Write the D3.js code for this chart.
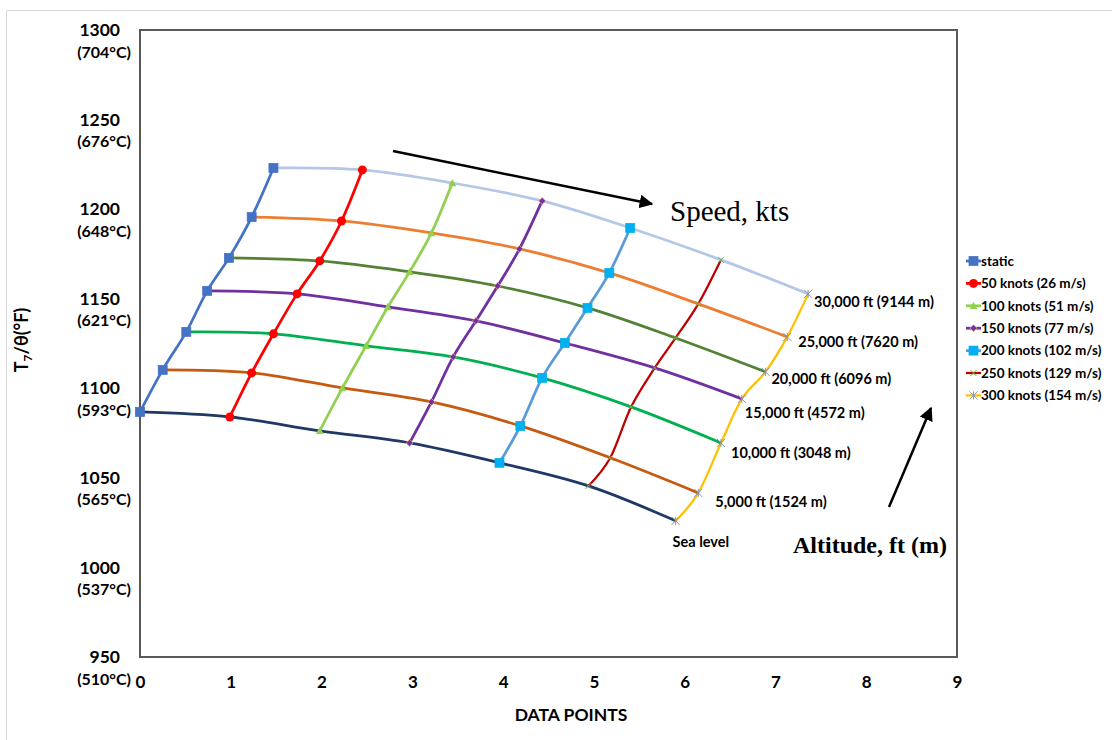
<!DOCTYPE html>
<html>
<head>
<meta charset="utf-8">
<script src="https://cdn.jsdelivr.net/npm/d3@7"></script>
<style>
  body { margin: 0; background: #fff; }
  svg { display: block; }
</style>
</head>
<body>
<svg id="chart" width="1112" height="740"></svg>
<script>
// ---- data ----------------------------------------------------------------
const speedLabels = ["static", "50 knots (26 m/s)", "100 knots (51 m/s)", "150 knots (77 m/s)",
                     "200 knots (102 m/s)", "250 knots (129 m/s)", "300 knots (154 m/s)"];
const altitudeLabels = ["Sea level", "5,000 ft (1524 m)", "10,000 ft (3048 m)", "15,000 ft (4572 m)",
                        "20,000 ft (6096 m)", "25,000 ft (7620 m)", "30,000 ft (9144 m)"];

// each speed series runs from sea level up to 30,000 ft
const staticX = [0.00, 0.25, 0.51, 0.74, 0.98, 1.23, 1.47];
const staticY = [1086.8, 1110.3, 1131.5, 1154.4, 1172.8, 1195.6, 1223.0];
const kt50X  = [0.99, 1.23, 1.47, 1.73, 1.98, 2.22, 2.45];
const kt50Y  = [1084.0, 1108.6, 1130.4, 1152.7, 1171.1, 1193.4, 1221.9];
const kt100X = [1.98, 2.23, 2.49, 2.73, 2.97, 3.21, 3.44];
const kt100Y = [1076.2, 1100.2, 1123.7, 1145.4, 1165.0, 1186.7, 1214.6];
const kt150X = [2.97, 3.21, 3.45, 3.70, 3.94, 4.18, 4.43];
const kt150Y = [1069.5, 1092.4, 1117.5, 1137.6, 1157.1, 1177.8, 1204.6];
const kt200X = [3.96, 4.19, 4.43, 4.68, 4.93, 5.17, 5.40];
const kt200Y = [1058.4, 1079.0, 1105.8, 1125.3, 1144.9, 1164.4, 1189.5];
const kt250X = [4.94, 5.18, 5.41, 5.67, 5.90, 6.15, 6.40];
const kt250Y = [1045.5, 1061.2, 1089.6, 1111.4, 1128.1, 1147.1, 1171.7];
const kt300X = [5.90, 6.15, 6.40, 6.63, 6.89, 7.13, 7.36];
const kt300Y = [1026.0, 1041.6, 1069.5, 1094.1, 1109.2, 1128.7, 1152.7];

const xTicks = [0, 1, 2, 3, 4, 5, 6, 7, 8, 9];
const yTicks = [950, 1000, 1050, 1100, 1150, 1200, 1250, 1300];
const celsiusLabels = ["(510°C)", "(537°C)", "(565°C)", "(593°C)", "(621°C)", "(648°C)", "(676°C)", "(704°C)"];

// ---- styles ----------------------------------------------------------------
const speedXs = [staticX, kt50X, kt100X, kt150X, kt200X, kt250X, kt300X];
const speedYs = [staticY, kt50Y, kt100Y, kt150Y, kt200Y, kt250Y, kt300Y];
const speedStyle = [
  { line: "#4472c4", width: 2.75, marker: "square",   fill: "#4472c4", stroke: "#4472c4", size: 9 },
  { line: "#ff0000", width: 2.75, marker: "circle",   fill: "#ff0000", stroke: "#ff0000", size: 9 },
  { line: "#92d050", width: 2.75, marker: "triangle", fill: "#92d050", stroke: "#92d050", size: 8 },
  { line: "#7030a0", width: 2.75, marker: "diamond",  fill: "#7030a0", stroke: "#f4b183", size: 7 },
  { line: "#5b9bd5", width: 2.75, marker: "square",   fill: "#00b0f0", stroke: "#00b0f0", size: 9 },
  { line: "#c00000", width: 2.25, marker: "x",        fill: "none",    stroke: "#70ad47", size: 6 },
  { line: "#ffc000", width: 2.25, marker: "star",     fill: "none",    stroke: "#8497b0", size: 8 }
];
const altitudeColors = ["#203864", "#c55a11", "#00b050", "#7030a0", "#548235", "#ed7d31", "#b4c7e7"];
const labelOffsets = [[-3, 21], [17, 9], [10, 10], [3, 14], [6, 7], [11, 5], [6, 8]];
const sans = "Lato, 'Open Sans', sans-serif";
const serif = "'Liberation Serif', 'Times New Roman', serif";

// ---- chart ----------------------------------------------------------------
const svg = d3.select("#chart");
const x = d3.scaleLinear().domain([0, 9]).range([140, 957]);
const y = d3.scaleLinear().domain([950, 1300]).range([657, 30]);

// outer chart border
svg.append("path").attr("d", "M6.5,740 V10.5 H1112").attr("fill", "none")
   .attr("stroke", "#d9d9d9").attr("stroke-width", 1);

// plot frame
svg.append("rect").attr("x", x(0)).attr("y", y(1300))
   .attr("width", x(9) - x(0)).attr("height", y(950) - y(1300))
   .attr("fill", "none").attr("stroke", "#595959").attr("stroke-width", 2);

// x axis
const xAxis = svg.append("g").attr("transform", `translate(0,${y(950)})`)
  .call(d3.axisBottom(x).tickValues(xTicks).tickSize(0).tickPadding(19).tickFormat(d3.format("d")));
xAxis.select(".domain").remove();
xAxis.selectAll("text").attr("font-family", sans).attr("font-weight", "bold")
  .attr("font-size", 17).attr("fill", "#000");

svg.append("text").attr("x", 571).attr("y", 721).attr("text-anchor", "middle")
  .attr("font-family", sans).attr("font-weight", "bold").attr("font-size", 17.5).text("DATA POINTS");

// y axis: °F value with its °C equivalent underneath
const yAxis = svg.append("g").attr("transform", `translate(${x(0)},0)`)
  .call(d3.axisLeft(y).tickValues(yTicks).tickSize(0).tickPadding(20).tickFormat(d3.format("d")));
yAxis.select(".domain").remove();
yAxis.selectAll("text").attr("font-family", sans).attr("font-weight", "bold")
  .attr("font-size", 17.5).attr("fill", "#000");
yAxis.selectAll(".tick").append("text")
  .attr("x", -9).attr("y", 22).attr("dy", "0.32em").attr("text-anchor", "end")
  .attr("font-family", sans).attr("font-weight", "bold").attr("font-size", 16)
  .attr("fill", "#000")
  .text(d => celsiusLabels[yTicks.indexOf(d)]);

const yTitle = svg.append("text").attr("transform", "translate(28,340) rotate(-90)")
  .attr("text-anchor", "middle").attr("font-family", sans)
  .attr("font-weight", "bold").attr("font-size", 18);
yTitle.append("tspan").text("T");
yTitle.append("tspan").attr("font-size", 12).attr("dy", 4).text("7");
yTitle.append("tspan").attr("dy", -4).text("/θ(°F)");

// grid lines
const curve = d3.line().x(d => x(d[0])).y(d => y(d[1])).curve(d3.curveCardinal.tension(0));

const speedPts = speedXs.map((xs, j) => xs.map((v, i) => [v, speedYs[j][i]]));
const altitudePts = altitudeLabels.map((_, i) => speedPts.map(s => s[i]));

svg.append("g").selectAll("path").data(speedPts).join("path")
  .attr("d", curve).attr("fill", "none")
  .attr("stroke", (d, j) => speedStyle[j].line)
  .attr("stroke-width", (d, j) => speedStyle[j].width)
  .attr("stroke-linecap", "round");

svg.append("g").selectAll("path").data(altitudePts).join("path")
  .attr("d", curve).attr("fill", "none")
  .attr("stroke", (d, i) => altitudeColors[i])
  .attr("stroke-width", 2.75);

// markers
function drawMarker(g, st) {
  const s = st.size, h = s / 2;
  if (st.marker === "square") {
    g.append("rect").attr("x", -h).attr("y", -h).attr("width", s).attr("height", s)
      .attr("fill", st.fill).attr("stroke", st.stroke).attr("stroke-width", 0.75);
  } else if (st.marker === "circle") {
    g.append("circle").attr("r", h).attr("fill", st.fill);
  } else if (st.marker === "triangle") {
    g.append("path").attr("d", `M0,${-h} L${h},${h * 0.8} L${-h},${h * 0.8} Z`).attr("fill", st.fill);
  } else if (st.marker === "diamond") {
    g.append("path").attr("d", `M0,${-h} L${h},0 L0,${h} L${-h},0 Z`)
      .attr("fill", st.fill).attr("stroke", st.stroke).attr("stroke-width", 0.75);
  } else if (st.marker === "x") {
    g.append("path").attr("d", `M${-h},${-h} L${h},${h} M${-h},${h} L${h},${-h}`)
      .attr("stroke", st.stroke).attr("stroke-width", 1);
  } else if (st.marker === "star") {
    g.append("path").attr("d", `M${-h},${-h} L${h},${h} M${-h},${h} L${h},${-h} M0,${-h} V${h}`)
      .attr("stroke", st.stroke).attr("stroke-width", 1);
  }
}

speedPts.forEach((pts, j) => {
  const g = svg.append("g");
  pts.forEach(p => {
    drawMarker(g.append("g").attr("transform", `translate(${x(p[0])},${y(p[1])})`), speedStyle[j]);
  });
});

// altitude labels at the end of each altitude line
svg.append("g").selectAll("text").data(altitudePts).join("text")
  .attr("x", (d, i) => x(d[6][0]) + labelOffsets[i][0])
  .attr("y", (d, i) => y(d[6][1]) + labelOffsets[i][1])
  .attr("dy", "0.35em")
  .attr("font-family", sans).attr("font-weight", "bold").attr("font-size", 14.5)
  .text((d, i) => altitudeLabels[i]);

// direction arrows and their captions
svg.append("defs").append("marker").attr("id", "head")
  .attr("viewBox", "0 0 10 10").attr("refX", 9).attr("refY", 5)
  .attr("markerWidth", 5.5).attr("markerHeight", 5.5).attr("orient", "auto")
  .append("path").attr("d", "M0,0 L10,5 L0,10 Z").attr("fill", "#000");

svg.append("line").attr("x1", 393).attr("y1", 151).attr("x2", 652).attr("y2", 204)
  .attr("stroke", "#000").attr("stroke-width", 2.5).attr("marker-end", "url(#head)");
svg.append("line").attr("x1", 889).attr("y1", 507).attr("x2", 931).attr("y2", 408)
  .attr("stroke", "#000").attr("stroke-width", 2.5).attr("marker-end", "url(#head)");

svg.append("text").attr("x", 670).attr("y", 221)
  .attr("font-family", serif).attr("font-size", 29)
  .text("Speed, kts");
svg.append("text").attr("x", 793).attr("y", 553)
  .attr("font-family", serif).attr("font-weight", "bold")
  .attr("font-size", 24).text("Altitude, ft (m)");

// legend
const legend = svg.append("g").attr("transform", "translate(966,261)");
speedLabels.forEach((label, j) => {
  const row = legend.append("g").attr("transform", `translate(0,${j * 22.4})`);
  row.append("line").attr("x1", 0).attr("x2", 15)
    .attr("stroke", speedStyle[j].line).attr("stroke-width", speedStyle[j].width);
  drawMarker(row.append("g").attr("transform", "translate(7.5,0)"), speedStyle[j]);
  row.append("text").attr("x", 15).attr("dy", "0.35em")
    .attr("font-family", sans).attr("font-weight", "bold").attr("font-size", 13.5).text(label);
});
</script>
</body>
</html>
